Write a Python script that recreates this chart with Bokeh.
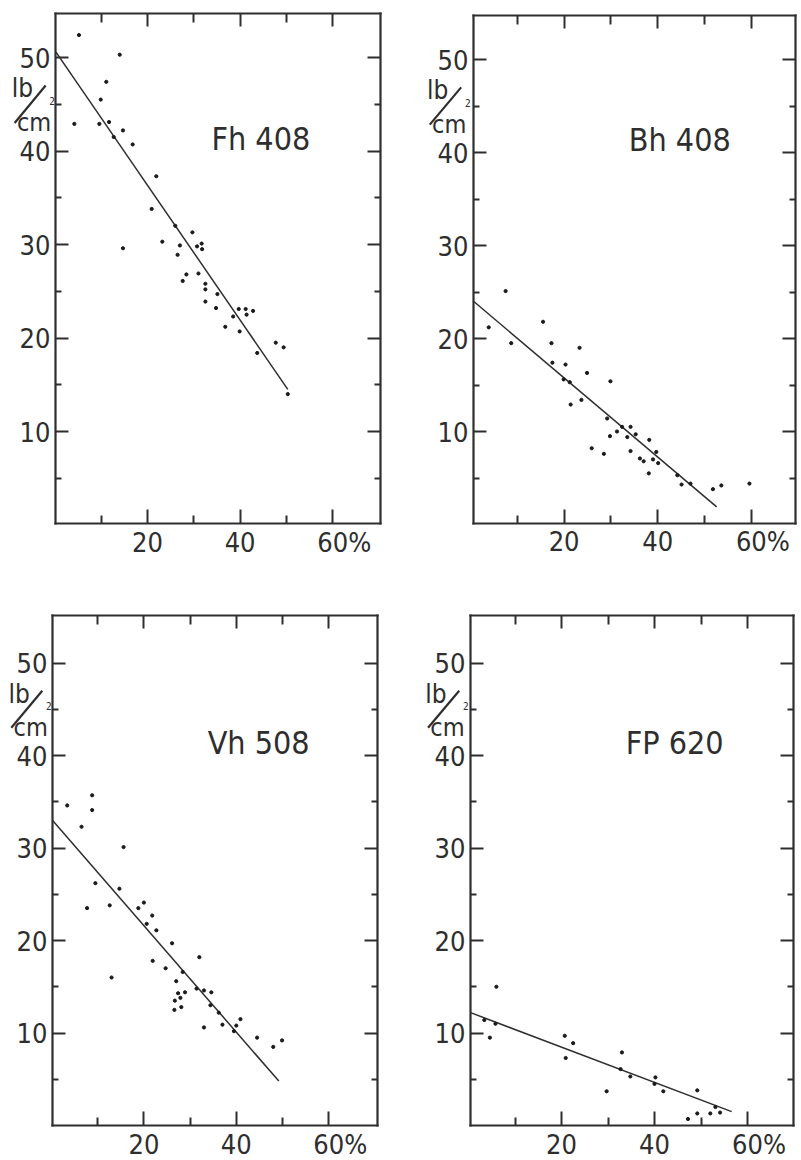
from bokeh.plotting import figure
from bokeh.layouts import row, column
from bokeh.models import FixedTicker, LinearAxis, Label, Arrow, Range1d
from bokeh.embed import file_html
from bokeh.resources import INLINE

# ---------------- data ----------------
titles = ["Fh 408", "Bh 408", "Vh 508", "FP 620"]

fh408_x = [5.2, 14.0, 11.1, 9.9, 4.2, 9.6, 11.7, 14.7, 12.7, 16.8, 21.9, 20.9, 23.2, 14.7,
           26.0, 29.7, 27.0, 30.7, 31.7, 31.8, 26.5, 28.4, 27.6, 31.0, 32.5, 32.5, 35.1,
           32.5, 34.8, 39.7, 41.2, 42.8, 38.5, 41.4, 36.8, 39.9, 43.7, 47.7, 49.4, 50.3]
fh408_y = [52.4, 50.3, 47.4, 45.5, 42.9, 42.9, 43.1, 42.2, 41.5, 40.7, 37.3, 33.8, 30.3, 29.6,
           32.0, 31.3, 29.9, 29.8, 30.1, 29.5, 28.9, 26.8, 26.1, 26.9, 25.8, 25.2, 24.7,
           23.9, 23.2, 23.1, 23.1, 22.9, 22.3, 22.5, 21.2, 20.7, 18.4, 19.5, 19.0, 14.0]
fh408_line_x = [0.2, 50.3]
fh408_line_y = [50.6, 14.5]

bh408_x = [7.5, 3.9, 8.7, 15.5, 17.3, 17.5, 20.3, 23.3, 24.9, 19.9, 21.2, 29.9, 21.4, 23.7,
           29.2, 32.4, 34.2, 31.3, 35.3, 29.8, 33.5, 38.2, 25.9, 34.2, 39.7, 28.5, 36.2,
           37.0, 39.0, 40.1, 38.1, 44.2, 45.1, 47.0, 51.8, 53.6, 59.6]
bh408_y = [25.1, 21.2, 19.5, 21.8, 19.5, 17.4, 17.2, 19.0, 16.3, 15.6, 15.3, 15.4, 12.9, 13.4,
           11.4, 10.5, 10.5, 10.0, 9.7, 9.5, 9.4, 9.1, 8.2, 7.9, 7.8, 7.6, 7.1,
           6.8, 7.0, 6.6, 5.5, 5.3, 4.3, 4.4, 3.8, 4.2, 4.4]
bh408_line_x = [0.65, 52.6]
bh408_line_y = [24.0, 1.9]

vh508_x = [8.8, 3.4, 8.8, 6.5, 15.6, 9.5, 14.7, 7.7, 12.6, 18.8, 20.0, 21.8, 20.6, 22.7,
           26.1, 32.0, 21.9, 24.7, 13.0, 28.4, 27.0, 31.4, 33.0, 34.6, 27.4, 28.9, 26.7,
           27.9, 34.4, 28.1, 26.6, 36.2, 40.9, 37.0, 33.0, 40.0, 39.5, 44.5, 49.9, 48.0]
vh508_y = [35.7, 34.6, 34.1, 32.3, 30.1, 26.2, 25.6, 23.5, 23.8, 23.5, 24.1, 22.7, 21.8, 21.1,
           19.7, 18.2, 17.8, 17.0, 16.0, 16.6, 15.6, 14.8, 14.6, 14.4, 14.3, 14.4, 13.5,
           13.8, 13.0, 12.8, 12.5, 12.2, 11.5, 10.9, 10.6, 10.8, 10.2, 9.5, 9.2, 8.5]
vh508_line_x = [0.2, 49.2]
vh508_line_y = [33.0, 4.8]

fp620_x = [6.0, 3.4, 5.8, 4.6, 20.7, 22.5, 20.9, 33.0, 32.7, 34.8, 29.7, 40.2, 40.0, 41.9,
           49.2, 53.1, 49.2, 52.0, 54.1, 47.2]
fp620_y = [15.0, 11.4, 11.0, 9.5, 9.7, 8.9, 7.3, 7.9, 6.1, 5.3, 3.7, 5.2, 4.5, 3.7,
           3.8, 2.0, 1.3, 1.3, 1.4, 0.7]
fp620_line_x = [0.45, 56.6]
fp620_line_y = [12.2, 1.5]

y_major = [10, 20, 30, 40, 50]
y_minor = [5, 15, 25, 35, 45]
x_major = [20, 40, 60]
x_minor = [10, 30, 50]
x_labels = {20: "20", 40: "40", 60: "\u2007\u200860%"}

# ---------------- style ----------------
INK = "#2e2e2e"
FONT = "DejaVu Sans Condensed"


def style_axis(ax, major, minor, t_major, t_minor, bounds, labelled, font_size="26px", standoff=5):
    ax.ticker = FixedTicker(ticks=major, minor_ticks=minor)
    ax.bounds = bounds
    ax.major_tick_in = t_major
    ax.major_tick_out = 0
    ax.minor_tick_in = t_minor
    ax.minor_tick_out = 0
    ax.axis_line_color = INK
    ax.axis_line_width = 2.2
    ax.axis_line_cap = "square"
    ax.major_tick_line_color = INK
    ax.major_tick_line_width = 2
    ax.minor_tick_line_color = INK
    ax.minor_tick_line_width = 2
    if labelled:
        ax.major_label_text_font = FONT
        ax.major_label_text_font_size = font_size
        ax.major_label_text_color = INK
        ax.major_label_standoff = standoff
    else:
        ax.major_label_text_color = None
        ax.major_label_standoff = 0


def panel(title, xs, ys, lx, ly, geom):
    # geom: figure rect on the page, pixel mapping of the data, and the box edges
    fx, fy, fw, fh = geom["fig"]
    x0, sx, y0, sy = geom["map"]
    bx0 = (geom["box_px"][0] - x0) / sx
    bx1 = (geom["box_px"][1] - x0) / sx
    by0, by1 = geom["box_y"]
    xr = ((fx - x0) / sx, (fx + fw - x0) / sx)
    yr = ((y0 - (fy + fh)) / sy, (y0 - fy) / sy)

    p = figure(width=fw, height=fh, x_range=Range1d(*xr), y_range=Range1d(*yr),
               output_backend="svg", toolbar_location=None,
               x_axis_location=None, y_axis_location=None,
               min_border_left=0, min_border_right=0, min_border_top=0, min_border_bottom=0)
    p.grid.visible = False
    p.background_fill_color = "white"
    p.border_fill_color = "white"
    p.outline_line_color = None

    bottom = LinearAxis(fixed_location=by0)
    style_axis(bottom, x_major, x_minor, 14, 8, (bx0, bx1), True, "27px", 3)
    bottom.major_label_overrides = x_labels
    p.add_layout(bottom, "below")

    left = LinearAxis(fixed_location=bx0)
    style_axis(left, y_major, y_minor, 13, 6, (by0, by1), True, "27px", 5)
    p.add_layout(left, "left")

    top = LinearAxis(fixed_location=by1)
    style_axis(top, x_major, x_minor, 13, 9, (bx0, bx1), False)
    p.add_layout(top, "above")

    right = LinearAxis(fixed_location=bx1)
    style_axis(right, y_major, y_minor, 13, 6, (by0, by1), False)
    p.add_layout(right, "right")

    p.line(lx, ly, line_color=INK, line_width=1.5)
    p.scatter(xs, ys, size=3.2, color="#1a1a1a")

    p.add_layout(Label(x=33.8, y=41.3, text=title, text_font=FONT, text_font_size="32px",
                       text_color=INK, text_baseline="alphabetic"))
    # unit label  lb / cm^2
    p.add_layout(Label(x=-9.3, y=46.7, text="lb", text_font=FONT, text_font_size="26px",
                       text_color=INK, text_baseline="alphabetic"))
    p.add_layout(Label(x=-8.2, y=43.0, text="cm", text_font=FONT, text_font_size="25px",
                       text_color=INK, text_baseline="alphabetic"))
    p.add_layout(Label(x=-1.2, y=45.3, text="2", text_font=FONT, text_font_size="10px",
                       text_color=INK, text_baseline="alphabetic"))
    p.add_layout(Arrow(end=None, start=None, x_start=-8.7, y_start=43.0, x_end=-2.0, y_end=47.0,
                       line_color=INK, line_width=2.2))
    return p


geoms = [
    dict(fig=(0, 0, 400, 600), map=(54.4, 4.63, 524.5, 9.35), box_px=(55, 380), box_y=(0.15, 54.7)),
    dict(fig=(400, 0, 401, 600), map=(470, 4.68, 524, 9.3), box_px=(473, 795), box_y=(0.15, 54.7)),
    dict(fig=(0, 600, 400, 560), map=(51, 4.62, 1125, 9.25), box_px=(52, 377), box_y=(0.0, 55.1)),
    dict(fig=(400, 600, 401, 560), map=(468, 4.65, 1125, 9.25), box_px=(470, 793), box_y=(0.0, 55.1)),
]

p1 = panel(titles[0], fh408_x, fh408_y, fh408_line_x, fh408_line_y, geoms[0])
p2 = panel(titles[1], bh408_x, bh408_y, bh408_line_x, bh408_line_y, geoms[1])
p3 = panel(titles[2], vh508_x, vh508_y, vh508_line_x, vh508_line_y, geoms[2])
p4 = panel(titles[3], fp620_x, fp620_y, fp620_line_x, fp620_line_y, geoms[3])

layout = column(row(p1, p2), row(p3, p4))
open("out.html", "w").write(file_html(layout, INLINE))
